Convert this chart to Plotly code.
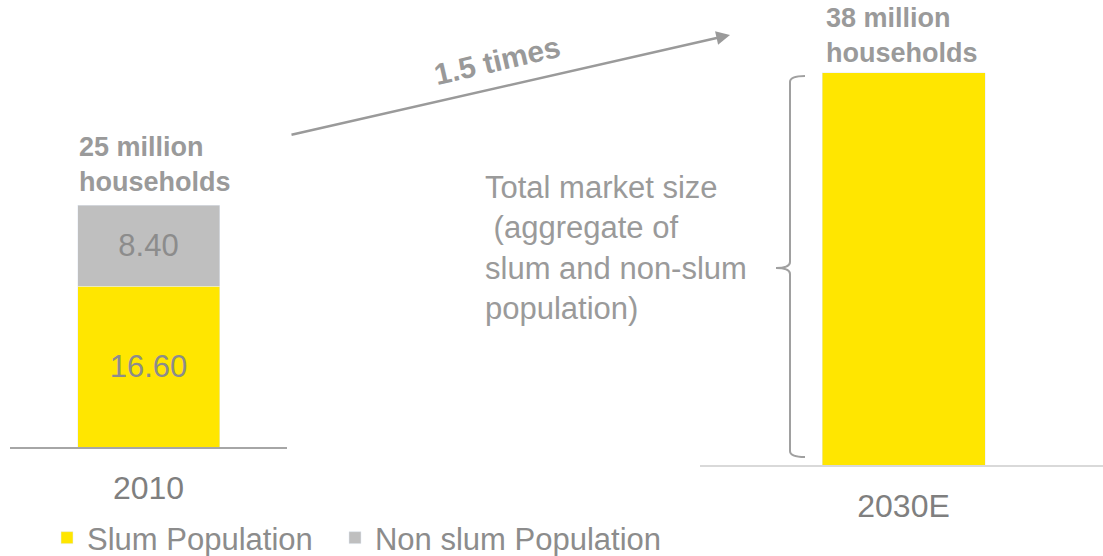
import plotly.graph_objects as go

# ---- data ----
years_left = ["2010"]
slum_2010 = [16.60]
nonslum_2010 = [8.40]
years_right = ["2030E"]
total_2030 = [38]
series_names = ["Slum Population", "Non slum Population"]
label_left = "25 million<br>households"
label_right = "38 million<br>households"
growth_label = "1.5 times"
bracket_label = "Total market size<br>\u00a0(aggregate of<br>slum and non-slum<br>population)"

W, H = 1103, 556
YELLOW = "#FFE600"
GREY = "#BFBFBF"
TXT = "#8C8C8C"
FONT = "Liberation Sans, Arial, sans-serif"

def px(x):
    return x / W

def py(y):
    return (H - y) / H

fig = go.Figure()
fig.add_trace(go.Bar(x=years_left, y=slum_2010, name=series_names[0] + "\u00a0\u00a0", marker_color=YELLOW,
                     width=0.5126, xaxis="x", yaxis="y",
                     texttemplate="%{y:.2f}", textposition="inside", insidetextanchor="middle",
                     textfont=dict(size=31, color=TXT, family=FONT)))
fig.add_trace(go.Bar(x=years_left, y=nonslum_2010, name=series_names[1], marker_color=GREY,
                     width=0.5126, xaxis="x", yaxis="y",
                     texttemplate="%{y:.2f}", textposition="inside", insidetextanchor="middle",
                     textfont=dict(size=31, color=TXT, family=FONT)))
fig.add_trace(go.Bar(x=years_right, y=total_2030, name="Total", marker_color=YELLOW,
                     width=0.4045, xaxis="x2", yaxis="y2", showlegend=False))

fig.update_layout(
    width=W, height=H, margin=dict(l=0, r=0, t=0, b=0, autoexpand=False),
    paper_bgcolor="white", plot_bgcolor="white",
    barmode="stack",
    font=dict(family=FONT, color=TXT),
    xaxis=dict(domain=[px(10), px(287)], range=[-0.5, 0.5], type="category",
               showline=True, linecolor="#A6A6A6", linewidth=2, showgrid=False, zeroline=False,
               ticks="", tickfont=dict(size=32, color="#7F7F7F", family=FONT), ticklabelstandoff=12),
    yaxis=dict(domain=[py(447), 1], range=[0, 447 / 9.68], visible=False),
    xaxis2=dict(domain=[px(700), 1], range=[-0.505, 0.495], type="category", anchor="y2",
                showline=True, linecolor="#D9D9D9", linewidth=2, showgrid=False, zeroline=False,
                ticks="", tickfont=dict(size=32, color="#7F7F7F", family=FONT), ticklabelstandoff=12),
    yaxis2=dict(domain=[py(465), 1], range=[0, 465 / 10.316], visible=False, anchor="x2"),
    showlegend=True,
    legend=dict(orientation="h", x=px(47), xanchor="left", y=py(538), yanchor="middle",
                font=dict(size=31, color=TXT, family=FONT),
                bgcolor="rgba(0,0,0,0)", traceorder="normal"),
)

fig.add_annotation(xref="paper", yref="paper", x=px(77), y=py(164), xanchor="left", yanchor="middle",
                   text="<b>" + label_left + "</b>", showarrow=False, align="left",
                   font=dict(size=27, color="#9A9A9A", family=FONT))
fig.add_annotation(xref="paper", yref="paper", x=px(824), y=py(35), xanchor="left", yanchor="middle",
                   text="<b>" + label_right + "</b>", showarrow=False, align="left",
                   font=dict(size=27, color="#9A9A9A", family=FONT))
fig.add_annotation(xref="paper", yref="paper", x=px(483), y=py(248), xanchor="left", yanchor="middle",
                   text=bracket_label, showarrow=False, align="left",
                   font=dict(size=31, color="#9A9A9A", family=FONT))
# growth arrow
fig.add_annotation(xref="paper", yref="paper", x=px(730), y=py(35), ax=290 - 730, ay=135 - 35,
                   axref="pixel", ayref="pixel", text="", showarrow=True, arrowhead=2,
                   arrowsize=1.1, arrowwidth=2.5, arrowcolor="#9A9A9A", standoff=0)
fig.add_annotation(xref="paper", yref="paper", x=px(497), y=py(61), xanchor="center", yanchor="middle",
                   text="<b>" + growth_label + "</b>",
                   textangle=-13, showarrow=False, font=dict(size=30, color="#999999", family=FONT))

# bracket
bx, top, bot, mid = 790, 76, 457, 268

def P(x, y):
    return f"{px(x)},{py(y)}"

path = (f"M {P(805, top)} Q {P(bx, top)} {P(bx, top + 6)} L {P(bx, mid - 6)} "
        f"Q {P(bx, mid)} {P(776, mid)} Q {P(bx, mid)} {P(bx, mid + 6)} "
        f"L {P(bx, bot - 6)} Q {P(bx, bot)} {P(805, bot)}")
fig.add_shape(type="path", xref="paper", yref="paper", path=path,
              line=dict(color="#A0A0A0", width=2))

fig.write_html("out.html")
